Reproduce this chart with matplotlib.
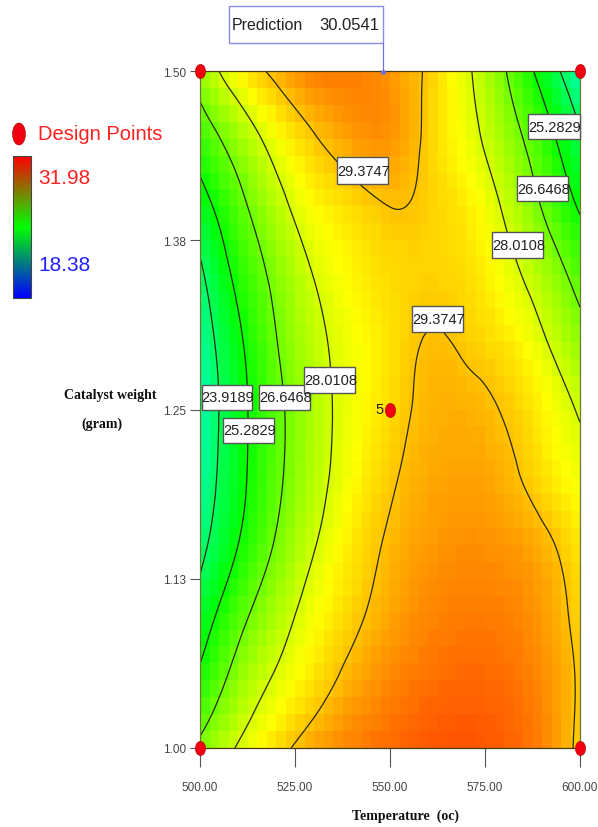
import numpy as np
import matplotlib
matplotlib.use("Agg")
import matplotlib.pyplot as plt
import matplotlib.tri as mtri
from matplotlib.colors import LinearSegmentedColormap
from matplotlib.patches import Rectangle, Ellipse
from matplotlib.path import Path
from matplotlib.transforms import Affine2D

# values, rows go from catalyst 1.00 up to 1.50
temp = [500, 510, 520, 530, 540, 550, 560, 570, 580, 590, 600]
catalyst = [1.00, 1.05, 1.10, 1.15, 1.20, 1.25, 1.30, 1.35, 1.40, 1.45, 1.50]
rows = [
    [26.90, 28.10, 29.05, 29.80, 30.25, 30.55, 30.80, 30.85, 30.70, 30.20, 29.15],
    [25.55, 27.10, 28.15, 28.95, 29.65, 30.15, 30.45, 30.60, 30.50, 30.10, 29.25],
    [24.50, 26.20, 27.45, 28.45, 29.15, 29.75, 30.15, 30.30, 30.25, 29.90, 29.10],
    [23.55, 25.28, 26.75, 27.95, 28.85, 29.50, 29.90, 30.05, 29.95, 29.60, 28.85],
    [23.10, 24.90, 26.40, 27.60, 28.55, 29.25, 29.70, 29.80, 29.60, 29.00, 28.40],
    [22.90, 24.85, 26.35, 27.55, 28.40, 29.05, 29.55, 29.60, 29.32, 28.70, 27.90],
    [23.20, 25.05, 26.60, 27.70, 28.45, 28.95, 29.42, 29.25, 28.90, 28.15, 27.10],
    [23.70, 25.60, 26.95, 28.05, 28.70, 29.05, 29.15, 29.00, 28.40, 27.45, 26.20],
    [24.75, 26.30, 27.60, 28.60, 29.05, 29.38, 29.20, 28.80, 27.90, 26.60, 25.15],
    [25.95, 27.25, 28.45, 29.30, 29.85, 29.95, 29.20, 28.40, 27.30, 25.90, 24.10],
    [27.20, 28.70, 29.60, 30.30, 30.30, 29.95, 29.25, 28.20, 26.75, 24.85, 22.90],
]
levels = [23.9189, 25.2829, 26.6468, 28.0108, 29.3747]
zmin = 18.38
zmax = 31.98

design_x = [500, 600, 500, 600, 550]
design_y = [1.00, 1.00, 1.50, 1.50, 1.25]

xticks = [500, 525, 550, 575, 600]
yticks = [1.00, 1.125, 1.25, 1.375, 1.50]
ytick_labels = ["1.00", "1.13", "1.25", "1.38", "1.50"]

# contour label boxes, left right top bottom in image pixels
box_text = ["29.3747", "25.2829", "26.6468", "28.0108", "29.3747",
            "23.9189", "26.6468", "28.0108", "25.2829"]
box_pos = [(337, 388, 158, 185), (528, 580, 115, 140), (517, 568, 177, 202),
           (492, 543, 233, 259), (412, 463, 307, 333), (202, 252, 386, 411),
           (259, 310, 386, 411), (304, 355, 368, 394), (223, 274, 419, 444)]

sans = ["Liberation Sans", "DejaVu Sans"]
serif = ["Liberation Serif", "DejaVu Serif"]

W, H = 598, 828
fig = plt.figure(figsize=(W / 100, H / 100), dpi=100)
ax = fig.add_axes([200 / W, 1 - 749 / H, 380 / W, 677 / H])

surface_cmap = LinearSegmentedColormap.from_list(
    "surface", ["#0000ff", "#00ffff", "#00ff00", "#ffff00", "#ff0000"])
bar_cmap = LinearSegmentedColormap.from_list("bar", ["#0000ff", "#00ff00", "#ff0000"])

# smooth the read values with matplotlib's own cubic interpolator
xx, yy = np.meshgrid(temp, catalyst)
tri = mtri.Triangulation(xx.ravel(), yy.ravel())
smooth = mtri.CubicTriInterpolator(tri, np.array(rows).ravel(), kind="min_E")

xf = np.linspace(temp[0], temp[-1], 161)
yf = np.linspace(catalyst[0], catalyst[-1], 161)
xg, yg = np.meshgrid(xf, yf)
zg = smooth(xg, yg)

# blocky cells like the source image
xe = np.linspace(temp[0], temp[-1], 41)
ye = np.linspace(catalyst[0], catalyst[-1], 41)
xc, yc = np.meshgrid((xe[:-1] + xe[1:]) / 2, (ye[:-1] + ye[1:]) / 2)
ax.pcolormesh(xe, ye, smooth(xc, yc), cmap=surface_cmap, vmin=zmin, vmax=zmax,
              shading="flat", antialiased=False, rasterized=True)
ax.contour(xg, yg, zg, levels=levels, colors="#2a2a10", linewidths=0.9)

ax.set_xlim(temp[0], temp[-1])
ax.set_ylim(catalyst[0], catalyst[-1])
ax.set_xticks(xticks)
ax.set_xticklabels(["%.2f" % t for t in xticks], family=sans, fontsize=8.5, color="#444444")
ax.set_yticks(yticks)
ax.set_yticklabels(ytick_labels, family=sans, fontsize=8.5, color="#444444")
ax.tick_params(axis="x", length=13.5, width=0.8, color="#555555", pad=10)
ax.tick_params(axis="y", length=7, width=0.8, color="#555555", pad=3)
for s in ax.spines.values():
    s.set_color("#6b7a30")
    s.set_linewidth(0.9)
ax.spines["top"].set_color("#4a3a10")
ax.spines["bottom"].set_color("#4a3a10")

# overlay in image pixels for the annotations
ov = fig.add_axes([0, 0, 1, 1], facecolor="none")
ov.set_xlim(0, W)
ov.set_ylim(H, 0)
ov.axis("off")

for s, (l, r, t, b) in zip(box_text, box_pos):
    ov.add_patch(Rectangle((l, t), r - l, b - t, fc="white", ec="#555555", lw=1, zorder=3))
    ov.text((l + r) / 2 + 1, (t + b) / 2, s, family=sans, fontsize=10.5, color="#222222",
            ha="center", va="center", zorder=4)

# tall narrow dots, the source image is squeezed sideways
tall_dot = Path.unit_circle().transformed(Affine2D().scale(0.72, 1))
ov2 = fig.add_axes(ax.get_position(), facecolor="none")
ov2.set_xlim(temp[0], temp[-1])
ov2.set_ylim(catalyst[0], catalyst[-1])
ov2.axis("off")
ov2.scatter(design_x, design_y, s=105, marker=tall_dot, c="#f00010", edgecolors="#a00000",
            linewidths=0.4, clip_on=False, zorder=5)
ov2.text(548.3, 1.25, "5", family=sans, fontsize=10.5, color="#222222", ha="right", va="center", zorder=5)

# prediction flag
ov.add_patch(Rectangle((229, 7), 154, 37, fc="white", ec="#8a8ae8", lw=1))
ov.text(232, 26, "Prediction", family=sans, fontsize=11.5, color="#222222", va="center")
ov.text(319, 26, "30.0541", family=sans, fontsize=12, color="#222222", va="center")
ov.plot([383, 383], [44, 73], color="#7070e0", lw=0.9)
ov.plot([383], [73], "o", ms=2.5, color="#7070e0")

# legend on the left
ov.add_patch(Ellipse((19, 135), 13, 22, fc="#f00010", ec="#a00000", lw=0.4))
ov.text(38, 135, "Design Points", family=sans, fontsize=14.5, color="#ff2020", va="center")
grad = np.linspace(1, 0, 200).reshape(-1, 1)
ov.imshow(grad, cmap=bar_cmap, extent=(13, 31, 299, 157), aspect="auto", zorder=2)
ov.add_patch(Rectangle((13, 157), 18, 142, fc="none", ec="#444444", lw=0.8, zorder=3))
ov.set_xlim(0, W)
ov.set_ylim(H, 0)
ov.text(38, 179, "%.2f" % zmax, family=sans, fontsize=15, color="#ff2020", va="center")
ov.text(38, 266, "%.2f" % zmin, family=sans, fontsize=15, color="#2020ff", va="center")

# axis titles
ov.text(110, 396, "Catalyst weight", family=serif, fontsize=10, weight="bold", color="#111111",
        ha="center", va="center")
ov.text(102, 424, "(gram)", family=serif, fontsize=10, weight="bold", color="#111111",
        ha="center", va="center")
ov.text(405, 816, "Temperature  (oc)", family=serif, fontsize=10, weight="bold", color="#111111",
        ha="center", va="center")

fig.savefig("out.png", dpi=100)
